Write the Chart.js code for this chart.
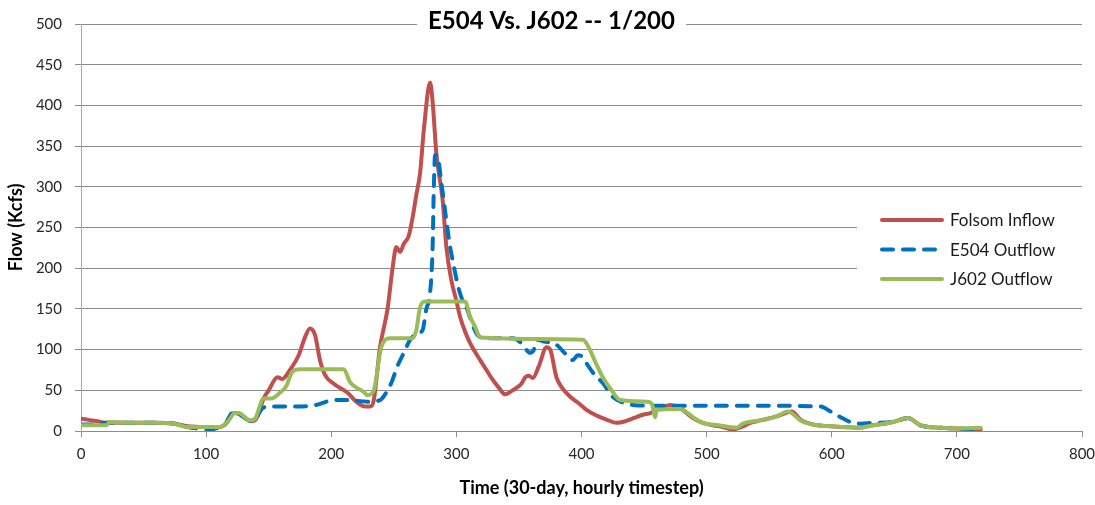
<!DOCTYPE html>
<html>
<head>
<meta charset="utf-8">
<script src="https://cdn.jsdelivr.net/npm/chart.js@4.4.0/dist/chart.umd.min.js"></script>
<style>
  html, body { margin: 0; padding: 0; background: #fff; }
  #wrap { width: 1095px; height: 505px; position: relative; }
</style>
</head>
<body>
<div id="wrap"><canvas id="myChart"></canvas></div>
<script>
const chartTitle = 'E504 Vs. J602 -- 1/200';
const xTitle = 'Time (30-day, hourly timestep)';
const yTitle = 'Flow (Kcfs)';
const seriesNames = ['Folsom Inflow', 'E504 Outflow', 'J602 Outflow'];

// [hour, kcfs]
const folsomInflow = [
  [0,15],[5,14],[13,12],[21,10],[40,10],[60,10],[75,9],[85,6],[100,5],[111,5],[116,9],
  [122,22],[126,21],[131,16],[136,12],[140,15],[146,40],[150,50],[157,66],[161,64],
  [167,75],[174,93],[179,115],[183,126],[187,118],[191,87],[195,69],[202,58],[213,47],
  [220,36],[227,30],[231,30],[234,38],[239,103],[245,150],[249,200],[252,226],[255,220],
  [258,230],[262,240],[265,262],[268,290],[271,317],[274,370],[279,428],[281,405],
  [284,341],[289,284],[292,226],[296,185],[300,160],[303,140],[307,122],[311,108],
  [315,97],[319,87],[324,75],[329,63],[334,53],[339,45],[344,49],[348,53],[352,58],
  [355,66],[358,68],[361,65],[366,80],[372,103],[375,100],[380,66],[385,52],[391,42],
  [397,35],[404,26],[412,19],[420,14],[428,10],[435,12],[442,16],[449,20],[455,22],
  [462,27],[471,32],[478,29],[484,22],[490,15],[497,10],[505,7],[513,5],[521,2],
  [528,5],[535,10],[543,13],[556,18],[565,23],[568,24],[575,14],[585,8],[596,6],
  [610,5],[620,4],[633,7],[649,11],[661,16],[664,14],[671,7],[687,4],[700,3],[719,2]
];
const e504Outflow = [
  [0,8],[10,8],[20,10],[40,10],[60,10],[75,9],[85,5],[95,3],[102,2],[110,4],[115,8],
  [121,22],[126,21],[131,16],[136,12],[140,16],[145,28],[151,30],[170,30],[188,32],
  [202,38],[213,38],[229,36],[239,38],[243,45],[248,59],[253,80],[258,96],[263,112],
  [269,120],[273,124],[276,150],[279,170],[281,225],[282,300],[283,339],[285,337],
  [288,305],[291,270],[295,226],[297,210],[301,180],[305,160],[308,152],[312,135],
  [316,120],[322,114],[345,114],[352,108],[359,96],[362,100],[364,112],[370,110],
  [380,106],[387,95],[393,87],[397,93],[400,92],[404,83],[410,70],[417,59],[425,42],
  [433,35],[441,32],[460,31],[500,31],[550,31],[591,30],[599,24],[607,17],[615,11],
  [623,9],[633,10],[649,11],[661,16],[664,14],[671,7],[687,4],[700,3],[719,2]
];
const j602Outflow = [
  [0,7],[10,7],[20,7],[23,11],[40,10],[60,10],[74,9],[85,5],[100,5],[111,5],[117,11],
  [123,22],[126,22],[135,13],[139,15],[146,40],[152,40],[159,47],[164,55],[169,73],
  [175,76],[210,76],[215,60],[226,48],[229,44],[234,50],[240,103],[247,114],[265,114],
  [268,124],[271,152],[275,159],[307,159],[311,140],[315,128],[319,115],[401,112],
  [405,105],[411,85],[417,66],[424,50],[431,38],[452,36],[456,34],[459,17],[460,26],
  [479,27],[485,22],[490,16],[497,10],[510,7],[524,4],[529,9],[543,13],[556,18],
  [565,24],[568,22],[575,13],[585,8],[596,6],[610,5],[620,4],[633,7],[649,11],
  [661,16],[664,14],[671,7],[687,4],[700,3],[719,4]
];

const toPts = arr => arr.map(p => ({ x: p[0], y: p[1] }));
const FONT = 'Lato, "Open Sans", sans-serif';

// title sits on the top gridline and the legend sits inside the plot, Excel style
const overlay = {
  id: 'overlay',
  afterDraw(chart) {
    const ctx = chart.ctx;
    const area = chart.chartArea;
    ctx.save();
    ctx.font = 'bold 24px ' + FONT;
    const w = ctx.measureText(chartTitle).width;
    const cx = chart.width / 2 + 4;
    ctx.fillStyle = '#fff';
    ctx.fillRect(cx - w / 2 - 11, 4, w + 22, 34);
    ctx.fillStyle = '#000';
    ctx.textAlign = 'center';
    ctx.textBaseline = 'middle';
    ctx.fillText(chartTitle, cx, 21);

    // legend box
    const lx = area.right - 225;
    ctx.fillStyle = '#fff';
    ctx.fillRect(lx, 198, chart.width - lx, 100);
    ctx.font = '17px ' + FONT;
    ctx.textAlign = 'left';
    chart.data.datasets.forEach((ds, i) => {
      const y = 220 + i * 29.5;
      ctx.beginPath();
      ctx.strokeStyle = ds.borderColor;
      ctx.lineWidth = ds.borderWidth;
      ctx.lineCap = ds.borderCapStyle || 'butt';
      ctx.setLineDash(ds.borderDash || []);
      ctx.moveTo(lx + 25, y);
      ctx.lineTo(lx + 85, y);
      ctx.stroke();
      ctx.setLineDash([]);
      ctx.fillStyle = '#1a1a1a';
      ctx.fillText(ds.label, lx + 93, y + 1);
    });
    ctx.restore();
  }
};

const ctx = document.getElementById('myChart').getContext('2d');
new Chart(ctx, {
  type: 'line',
  data: {
    datasets: [
      {
        label: seriesNames[0],
        data: toPts(folsomInflow),
        borderColor: '#C0504D',
        borderWidth: 4,
        borderCapStyle: 'round',
        borderJoinStyle: 'round',
        order: 3
      },
      {
        label: seriesNames[1],
        data: toPts(e504Outflow),
        borderColor: '#0070C0',
        borderWidth: 4,
        borderDash: [11, 10],
        borderCapStyle: 'round',
        borderJoinStyle: 'round',
        order: 2
      },
      {
        label: seriesNames[2],
        data: toPts(j602Outflow),
        borderColor: '#9BBB59',
        borderWidth: 4,
        borderCapStyle: 'round',
        borderJoinStyle: 'round',
        order: 1
      }
    ]
  },
  options: {
    responsive: true,
    maintainAspectRatio: false,
    animation: false,
    layout: { padding: { left: 0, right: 13, top: 24, bottom: 0 } },
    elements: {
      point: { radius: 0 },
      line: { tension: 0, cubicInterpolationMode: 'monotone' }
    },
    plugins: {
      legend: { display: false },
      title: { display: false },
      tooltip: { enabled: false }
    },
    scales: {
      x: {
        type: 'linear',
        min: 0,
        max: 800,
        ticks: { stepSize: 100, padding: 8, color: '#262626', font: { family: FONT, size: 15 } },
        grid: { drawOnChartArea: false, drawTicks: true, tickLength: 6, color: '#8c8c8c' },
        border: { color: '#8c8c8c' },
        title: {
          display: true,
          text: xTitle,
          color: '#000',
          font: { family: FONT, size: 18, weight: 'bold' },
          padding: { top: 0, bottom: 6 }
        },
        afterFit(scale) {
          scale.height = 74;
          scale.paddingRight = 0;
          scale.paddingLeft = 0;
        }
      },
      y: {
        min: 0,
        max: 500,
        ticks: { stepSize: 50, padding: 13, color: '#262626', font: { family: FONT, size: 15 } },
        grid: { color: '#8c8c8c', tickLength: 6 },
        border: { color: '#a6a6a6' },
        title: {
          display: true,
          text: yTitle,
          color: '#000',
          font: { family: FONT, size: 18, weight: 'bold' },
          padding: { top: 5, bottom: 0 }
        },
        afterFit(scale) { scale.width = 81; }
      }
    }
  },
  plugins: [overlay]
});
</script>
</body>
</html>
